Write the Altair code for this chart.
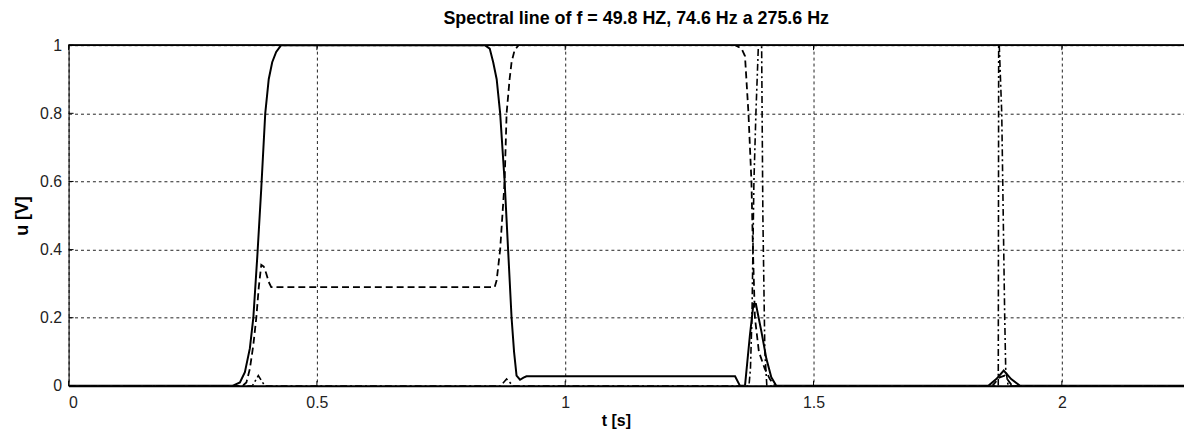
import altair as alt
import pandas as pd

# ---- data ----
t_solid = [0, 0.33, 0.345, 0.355, 0.365, 0.372, 0.38, 0.388, 0.396, 0.403, 0.41, 0.418, 0.428,
           0.838, 0.848, 0.855, 0.862, 0.869, 0.878, 0.885, 0.892, 0.897, 0.902, 0.909, 0.916, 0.922,
           1.342, 1.352, 1.362, 1.372, 1.379, 1.384, 1.395, 1.405, 1.415, 1.425,
           1.852, 1.868, 1.883, 1.898, 1.916, 2.25]
u_solid = [0, 0, 0.01, 0.04, 0.11, 0.2, 0.38, 0.58, 0.8, 0.9, 0.95, 0.98, 1.0,
           1.0, 0.99, 0.95, 0.9, 0.8, 0.6, 0.4, 0.2, 0.1, 0.03, 0.018, 0.024, 0.028,
           0.028, 0, 0, 0.15, 0.24, 0.24, 0.16, 0.08, 0.025, 0,
           0, 0.02, 0.045, 0.02, 0, 0]

t_dash = [0, 0.35, 0.358, 0.365, 0.372, 0.378, 0.383, 0.388, 0.393, 0.398, 0.403, 0.408,
          0.858, 0.862, 0.869, 0.878, 0.882, 0.888, 0.892, 0.898, 0.906,
          1.342, 1.355, 1.362, 1.369, 1.375, 1.378, 1.382, 1.39, 1.402, 1.412, 1.422,
          1.86, 1.875, 1.885, 1.9, 2.25]
u_dash = [0, 0, 0.01, 0.05, 0.12, 0.2, 0.29, 0.355, 0.35, 0.33, 0.305, 0.29,
          0.29, 0.31, 0.4, 0.6, 0.8, 0.9, 0.95, 0.985, 1.0,
          1.0, 0.99, 0.968, 0.8, 0.6, 0.4, 0.2, 0.1, 0.05, 0.02, 0,
          0, 0.025, 0.03, 0, 0]

t_dd = [0, 0.37, 0.382, 0.395, 0.87, 0.882, 0.895,
        1.37, 1.373, 1.376, 1.378, 1.38, 1.384, 1.389, 1.393, 1.398, 1.402, 1.406,
        1.872, 1.873, 1.874, 1.879, 1.881, 1.883, 1.885, 1.887, 1.892, 2.25]
u_dd = [0, 0, 0.03, 0, 0, 0.02, 0,
        0, 0.05, 0.2, 0.4, 0.6, 0.8, 1.0, 1.5, 0.5, 0.1, 0,
        0, 1.2, 1.0, 0.8, 0.6, 0.4, 0.2, 0.05, 0, 0]

x_ticks = [0, 0.5, 1, 1.5, 2]
y_ticks = [0, 0.2, 0.4, 0.6, 0.8, 1]
X_MAX = 2.246
TITLE = "Spectral line of f = 49.8 HZ, 74.6 Hz a 275.6 Hz"

W, H = 1123, 343
FONT = "Liberation Sans"

df_s = pd.DataFrame({"t": t_solid, "u": u_solid})
df_d = pd.DataFrame({"t": t_dash, "u": u_dash})
df_dd = pd.DataFrame({"t": t_dd, "u": u_dd})
df_xt = pd.DataFrame({"t": x_ticks})
df_yt = pd.DataFrame({"u": y_ticks})

xscale = alt.Scale(domain=[0, X_MAX], nice=False, zero=False)
yscale = alt.Scale(domain=[0, 1], nice=False)

xaxis = alt.Axis(values=x_ticks, format="~g", title="t [s]", grid=True,
                 gridDash=[3, 3], gridColor="#222", gridWidth=1,
                 tickSize=0, labelPadding=9, labelFontSize=16, labelFont=FONT,
                 labelColor="#222", domainColor="black", domainWidth=2,
                 titleFont=FONT, titleFontSize=16, titleFontWeight="bold",
                 titleColor="black", titlePadding=2, titleX=551)
yaxis = alt.Axis(values=y_ticks, format="~g", title="u [V]", grid=True,
                 gridDash=[3, 3], gridColor="#222", gridWidth=1,
                 tickSize=0, labelPadding=7, labelFontSize=16, labelFont=FONT,
                 labelColor="#222", domainColor="black", domainWidth=1,
                 titleFont=FONT, titleFontSize=18, titleFontWeight="bold",
                 titleColor="black", titlePadding=8)

X = alt.X("t:Q", scale=xscale, axis=xaxis)
Y = alt.Y("u:Q", scale=yscale, axis=yaxis)

solid = alt.Chart(df_s).mark_line(color="black", strokeWidth=2, clip=True).encode(x=X, y=Y)
dash = alt.Chart(df_d).mark_line(color="black", strokeWidth=1.8, strokeDash=[7, 4], clip=True).encode(x=X, y=Y)
dd = alt.Chart(df_dd).mark_line(color="black", strokeWidth=1.6, strokeDash=[7, 3, 2, 3], clip=True).encode(x=X, y=Y)

# MATLAB-style box top edge and inward ticks
top = alt.Chart(df_xt).mark_rule(color="black", strokeWidth=1).encode(
    x=alt.value(0), x2=alt.value(W), y=alt.value(0))
xt_bot = alt.Chart(df_xt).mark_rule(color="black", strokeWidth=1).encode(
    x=X, y=alt.value(H), y2=alt.value(H - 5))
xt_top = alt.Chart(df_xt).mark_rule(color="black", strokeWidth=1).encode(
    x=X, y=alt.value(0), y2=alt.value(5))
yt_left = alt.Chart(df_yt).mark_rule(color="black", strokeWidth=1).encode(
    y=Y, x=alt.value(0), x2=alt.value(5))

chart = alt.layer(top, xt_bot, xt_top, yt_left, dd, dash, solid).properties(
    width=W, height=H,
    title=alt.TitleParams(TITLE, font=FONT, fontSize=18, fontWeight="bold",
                          color="black", offset=9, anchor="middle", dx=10),
    autosize=alt.AutoSizeParams(type="none"),
    padding={"left": 61, "top": 36, "right": 0, "bottom": 44},
).configure_view(stroke=None).configure(background="white")

chart.save("out.html", embed_options={"renderer": "svg", "actions": False})
